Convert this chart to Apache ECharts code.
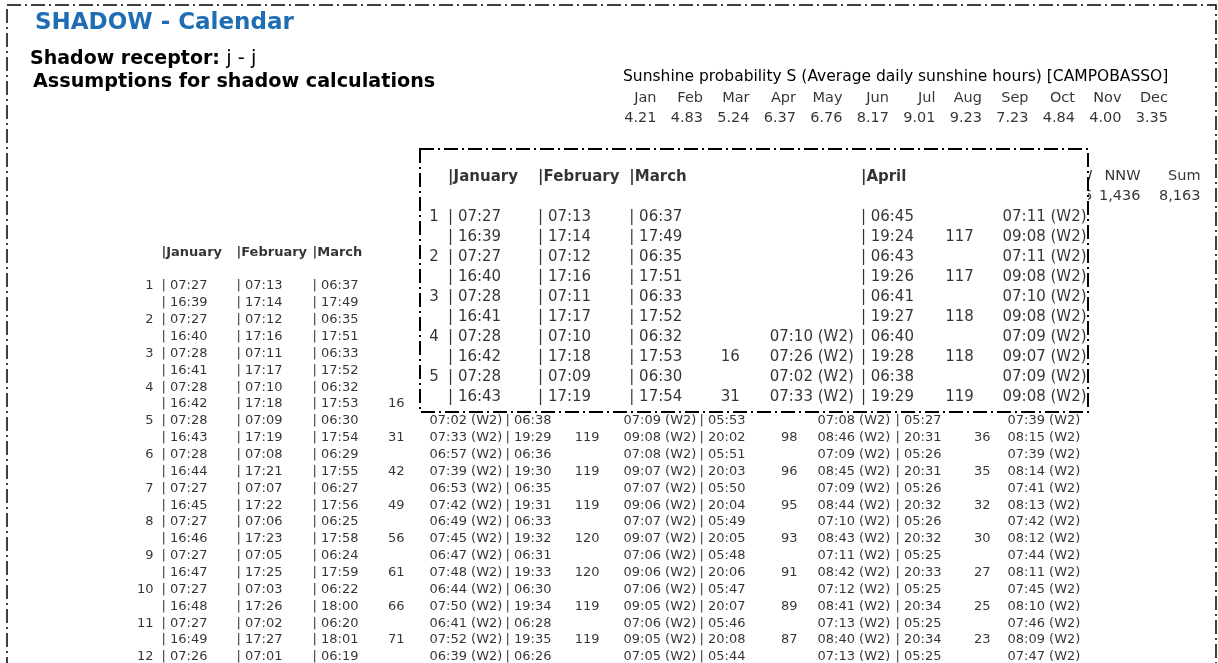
<!DOCTYPE html>
<html>
<head>
<meta charset="utf-8">
<title>SHADOW - Calendar</title>
<script src="https://cdn.jsdelivr.net/npm/echarts@6/dist/echarts.min.js"></script>
<style>
  html, body { margin: 0; padding: 0; background: #fff; }
  #chart { width: 1218px; height: 663px; }
</style>
</head>
<body>
<div id="chart"></div>
<script>
// ---- data ----
const sunMonths = ['Jan', 'Feb', 'Mar', 'Apr', 'May', 'Jun', 'Jul', 'Aug', 'Sep', 'Oct', 'Nov', 'Dec'];
const sunHours = [4.21, 4.83, 5.24, 6.37, 6.76, 8.17, 9.01, 9.23, 7.23, 4.84, 4.00, 3.35];

// operational hours per sector (NW is almost fully hidden behind the inset)
const sectorNames = ['NW', 'NNW', 'Sum'];
const sectorHours = [1185, 1436, 8163];

const calMonths = ['January', 'February', 'March', 'April', 'May', 'June'];
const days = [1, 2, 3, 4, 5, 6, 7, 8, 9, 10, 11, 12];

// sun rise / sun set per day
const janRise = ['07:27', '07:27', '07:28', '07:28', '07:28', '07:28', '07:27', '07:27', '07:27', '07:27', '07:27', '07:26'];
const janSet = ['16:39', '16:40', '16:41', '16:42', '16:43', '16:44', '16:45', '16:46', '16:47', '16:48', '16:49'];
const febRise = ['07:13', '07:12', '07:11', '07:10', '07:09', '07:08', '07:07', '07:06', '07:05', '07:03', '07:02', '07:01'];
const febSet = ['17:14', '17:16', '17:17', '17:18', '17:19', '17:21', '17:22', '17:23', '17:25', '17:26', '17:27'];
const marRise = ['06:37', '06:35', '06:33', '06:32', '06:30', '06:29', '06:27', '06:25', '06:24', '06:22', '06:20', '06:19'];
const marSet = ['17:49', '17:51', '17:52', '17:53', '17:54', '17:55', '17:56', '17:58', '17:59', '18:00', '18:01'];
const aprRise = ['06:45', '06:43', '06:41', '06:40', '06:38', '06:36', '06:35', '06:33', '06:31', '06:30', '06:28', '06:26'];
const aprSet = ['19:24', '19:26', '19:27', '19:28', '19:29', '19:30', '19:31', '19:32', '19:33', '19:34', '19:35'];
const mayRise = [null, null, null, null, '05:53', '05:51', '05:50', '05:49', '05:48', '05:47', '05:46', '05:44'];
const maySet = [null, null, null, null, '20:02', '20:03', '20:04', '20:05', '20:06', '20:07', '20:08'];
const junRise = [null, null, null, null, '05:27', '05:26', '05:26', '05:26', '05:25', '05:25', '05:25', '05:25'];
const junSet = [null, null, null, null, '20:31', '20:31', '20:32', '20:32', '20:33', '20:34', '20:34'];

// shadow minutes and first / last time with shadow (W2)
const marMin = [null, null, null, 16, 31, 42, 49, 56, 61, 66, 71];
const marFrom = [null, null, null, '07:10', '07:02', '06:57', '06:53', '06:49', '06:47', '06:44', '06:41', '06:39'];
const marTo = [null, null, null, '07:26', '07:33', '07:39', '07:42', '07:45', '07:48', '07:50', '07:52'];
const aprMin = [117, 117, 118, 118, 119, 119, 119, 120, 120, 119, 119];
const aprFrom = ['07:11', '07:11', '07:10', '07:09', '07:09', '07:08', '07:07', '07:07', '07:06', '07:06', '07:06', '07:05'];
const aprTo = ['09:08', '09:08', '09:08', '09:07', '09:08', '09:07', '09:06', '09:07', '09:06', '09:05', '09:05'];
const mayMin = [null, null, null, null, 98, 96, 95, 93, 91, 89, 87];
const mayFrom = [null, null, null, null, '07:08', '07:09', '07:09', '07:10', '07:11', '07:12', '07:13', '07:13'];
const mayTo = [null, null, null, null, '08:46', '08:45', '08:44', '08:43', '08:42', '08:41', '08:40'];
const junMin = [null, null, null, null, 36, 35, 32, 30, 27, 25, 23];
const junFrom = [null, null, null, null, '07:39', '07:39', '07:41', '07:42', '07:44', '07:45', '07:46', '07:47'];
const junTo = [null, null, null, null, '08:15', '08:14', '08:13', '08:12', '08:11', '08:10', '08:09'];

const monthData = [
  { rise: janRise, set: janSet },
  { rise: febRise, set: febSet },
  { rise: marRise, set: marSet, min: marMin, from: marFrom, to: marTo },
  { rise: aprRise, set: aprSet, min: aprMin, from: aprFrom, to: aprTo },
  { rise: mayRise, set: maySet, min: mayMin, from: mayFrom, to: mayTo },
  { rise: junRise, set: junSet, min: junMin, from: junFrom, to: junTo }
];

// ---- layout (report column offsets, in table units) ----
const dayCol = 1;
const monthCol = [8, 83, 159, 352, 546, 742];
const minCol = [null, null, 252, 447, 645, 838];
const fromCol = [null, null, 276, 470, 664, 854];
const sectorCol = [0, 48, 108];

const FONT = 'Verdana, "DejaVu Sans", sans-serif';
const INK = '#000';

const chart = echarts.init(document.getElementById('chart'), null, { renderer: 'canvas' });

function textSeries(axis, data, align, fontSize, z, bold) {
  return {
    type: 'scatter',
    xAxisIndex: axis,
    yAxisIndex: axis,
    symbolSize: 1,
    silent: true,
    z: z,
    itemStyle: { color: 'rgba(0,0,0,0)' },
    label: {
      show: true,
      position: align === 'right' ? 'left' : 'right',
      distance: 0,
      formatter: p => p.name,
      color: INK,
      fontFamily: FONT,
      fontSize: fontSize,
      fontWeight: bold ? 'bold' : 'normal'
    },
    data: data
  };
}

// rows: 0 = month header, 1 = blank, then two lines per day
function calendarSeries(axis, nDays, nMonths, lastWithShadow, fontSize, z) {
  const left = [], right = [], head = [];
  days.slice(0, nDays).forEach((d, i) => {
    right.push({ name: String(d), value: [dayCol, 2 + 2 * i] });
  });
  monthData.slice(0, nMonths).forEach((m, k) => {
    head.push({ name: '|' + calMonths[k], value: [monthCol[k], 0] });
    for (let i = 0; i < nDays; i++) {
      if (m.rise[i]) left.push({ name: '| ' + m.rise[i], value: [monthCol[k], 2 + 2 * i] });
      if (m.set[i]) left.push({ name: '| ' + m.set[i], value: [monthCol[k], 3 + 2 * i] });
      if (!m.min || k > lastWithShadow) continue;
      if (m.min[i] != null) right.push({ name: String(m.min[i]), value: [minCol[k], 3 + 2 * i] });
      if (m.from[i]) left.push({ name: m.from[i] + ' (W2)', value: [fromCol[k], 2 + 2 * i] });
      if (m.to[i]) left.push({ name: m.to[i] + ' (W2)', value: [fromCol[k], 3 + 2 * i] });
    }
  });
  return [
    textSeries(axis, left, 'left', fontSize, z, false),
    textSeries(axis, right, 'right', fontSize, z, false),
    textSeries(axis, head, 'left', fontSize, z, true)
  ];
}

const sunData = [];
sunMonths.forEach((m, i) => {
  sunData.push({ name: m, value: [i, 0] });
  sunData.push({ name: sunHours[i].toFixed(2), value: [i, 1] });
});

const sectorData = [];
sectorNames.forEach((s, i) => {
  sectorData.push({ name: s, value: [sectorCol[i], 0] });
  sectorData.push({ name: sectorHours[i].toLocaleString('en-US'), value: [sectorCol[i], 1] });
});

const ROW = 16.86;      // base row pitch
const IROW = 20;        // inset row pitch

const option = {
  animation: false,
  backgroundColor: '#fff',
  grid: [
    // base table, rows continue below the page edge
    { left: 153, top: 286 - 2.5 * ROW, width: 1000, height: 24.8 * ROW },
    // magnified inset (scale 1.2)
    { left: 438, top: 217 - 2.5 * IROW, width: 540 * 1.2, height: 12 * IROW },
    { left: 657, top: 88, width: 511.5, height: 40 },
    { left: 1093, top: 166, width: 108, height: 40 }
  ],
  xAxis: [
    { gridIndex: 0, type: 'value', min: 0, max: 1000, show: false },
    { gridIndex: 1, type: 'value', min: 0, max: 540, show: false },
    { gridIndex: 2, type: 'value', min: 0, max: 11, show: false },
    { gridIndex: 3, type: 'value', min: 0, max: 108, show: false }
  ],
  yAxis: [
    { gridIndex: 0, type: 'value', min: -0.5, max: 24.3, inverse: true, show: false },
    { gridIndex: 1, type: 'value', min: -0.5, max: 11.5, inverse: true, show: false },
    { gridIndex: 2, type: 'category', data: ['month', 'hours'], inverse: true, show: false },
    { gridIndex: 3, type: 'category', data: ['sector', 'hours'], inverse: true, show: false }
  ],
  graphic: [
    {
      type: 'rect', z: 1, silent: true,
      shape: { x: 7, y: 5, width: 1209, height: 720 },
      style: { fill: 'none', stroke: '#000', lineWidth: 1.5, lineDash: [14, 4, 2, 4] }
    },
    {
      type: 'text', left: 35, top: 12, z: 5,
      style: { text: 'SHADOW - Calendar', font: 'bold 23px ' + FONT, fill: '#1f6db3' }
    },
    {
      type: 'text', left: 30, top: 49, z: 5,
      style: {
        text: '{b|Shadow receptor:} j - j',
        font: '19.5px ' + FONT, fill: '#000',
        rich: { b: { fontWeight: 'bold', fontSize: 19, fontFamily: FONT } }
      }
    },
    {
      type: 'text', left: 33, top: 73, z: 5,
      style: { text: 'Assumptions for shadow calculations', font: 'bold 19.2px ' + FONT, fill: '#000' }
    },
    {
      type: 'text', left: 623, top: 69, z: 5,
      style: { text: 'Sunshine probability S (Average daily sunshine hours) [CAMPOBASSO]', font: '15.5px ' + FONT, fill: INK }
    },
    {
      type: 'rect', z: 50, silent: true,
      shape: { x: 420, y: 149, width: 668, height: 263 },
      style: { fill: '#fff', stroke: '#000', lineWidth: 2, lineDash: [14, 4, 2, 4] }
    }
  ],
  series: [
    ...calendarSeries(0, 12, 6, 5, 13, 2),
    textSeries(2, sunData, 'right', 14.5, 2, false),
    textSeries(3, sectorData, 'right', 14.5, 2, false),
    ...calendarSeries(1, 5, 4, 3, 15, 100)
  ]
};

chart.setOption(option);
</script>
</body>
</html>
